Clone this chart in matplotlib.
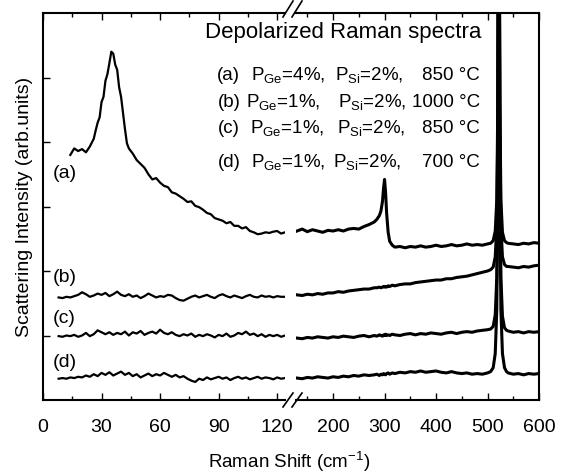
import matplotlib.pyplot as plt
from matplotlib.ticker import MultipleLocator
from matplotlib.lines import Line2D

plt.rcParams['font.family'] = ['Liberation Sans', 'DejaVu Sans']
plt.rcParams['mathtext.fontset'] = 'custom'
plt.rcParams['mathtext.rm'] = 'Liberation Sans'
plt.rcParams['mathtext.it'] = 'Liberation Sans:italic'

# x-Werte links (0..124) und rechts (128..600)
x_left = [8, 10, 12, 14, 16, 18, 20, 22, 24, 26, 28, 30, 32, 34, 36, 38, 40, 42, 44, 46,
          48, 50, 52, 54, 56, 58, 60, 62, 64, 66, 68, 70, 72, 74, 76, 78, 80, 82, 84, 86,
          88, 90, 92, 94, 96, 98, 100, 102, 104, 106, 108, 110, 112, 114, 116, 118, 120, 122, 124]
x_a_left = [14, 16, 18, 20, 22, 24, 26, 27, 28, 29, 30, 31, 32, 33, 34, 35, 36, 37, 38, 39,
            40, 41, 42, 43, 44, 46, 48, 50, 52, 54, 56, 58, 60, 62, 64, 66, 68, 70, 72, 74,
            76, 78, 80, 82, 84, 86, 88, 90, 92, 94, 96, 98, 100, 102, 104, 106, 108, 110, 112, 114,
            116, 118, 120, 122, 124]
x_right = [130, 140, 150, 160, 170, 180, 190, 200, 210, 220, 230, 240, 250, 260, 270, 280,
           285, 290, 293, 296, 298, 300, 302, 304, 307, 310, 315, 320,
           330, 340, 350, 360, 370, 380, 390, 400, 410, 420, 430, 440, 450, 460, 470, 480, 490, 500,
           506, 511, 515, 518, 520, 521, 522, 523, 524, 526, 529, 533, 537,
           540, 550, 560, 570, 580, 590, 600]

# (a) P_Ge=4%, 850 C
a_left = [3.80, 3.90, 3.86, 3.89, 3.84, 3.93, 4.05, 4.18, 4.30, 4.38, 4.62, 4.70, 4.95, 5.05, 5.22, 5.40, 5.37, 5.20, 5.12, 4.85,
          4.70, 4.45, 4.20, 3.98, 3.90, 3.82, 3.72, 3.66, 3.60, 3.50, 3.42, 3.44, 3.37, 3.32, 3.30, 3.22, 3.20, 3.16, 3.12, 3.07,
          3.08, 3.01, 2.99, 2.95, 2.90, 2.88, 2.82, 2.80, 2.78, 2.74, 2.76, 2.70, 2.70, 2.66, 2.68, 2.62, 2.60, 2.57, 2.58, 2.60,
          2.59, 2.61, 2.62, 2.58, 2.60]
a_right = [2.62, 2.65, 2.61, 2.64, 2.62, 2.60, 2.63, 2.62, 2.64, 2.62, 2.65, 2.66, 2.65, 2.69, 2.72, 2.76,
           2.80, 2.86, 2.93, 3.08, 3.28, 3.42, 3.22, 2.90, 2.60, 2.46, 2.40, 2.37,
           2.38, 2.36, 2.38, 2.37, 2.39, 2.37, 2.38, 2.40, 2.38, 2.39, 2.41, 2.39, 2.40, 2.42, 2.40, 2.41, 2.40, 2.42,
           2.43, 2.47, 2.62, 3.10, 4.60, 7.50, 11.0, 7.50, 4.60, 3.10, 2.60, 2.47, 2.44,
           2.43, 2.42, 2.41, 2.43, 2.42, 2.44, 2.43]

# (b) P_Ge=1%, 1000 C
b_left = [1.59, 1.58, 1.60, 1.59, 1.61, 1.63, 1.67, 1.64, 1.60, 1.62, 1.65, 1.63, 1.66, 1.61, 1.64, 1.68, 1.63, 1.61, 1.64, 1.60,
          1.62, 1.58, 1.61, 1.65, 1.62, 1.59, 1.61, 1.60, 1.63, 1.62, 1.58, 1.55, 1.54, 1.57, 1.60, 1.62, 1.59, 1.61, 1.63, 1.60,
          1.58, 1.62, 1.64, 1.61, 1.59, 1.62, 1.60, 1.58, 1.61, 1.63, 1.60, 1.59, 1.62, 1.60, 1.61, 1.59, 1.61, 1.60, 1.60]
b_right = [1.63, 1.62, 1.64, 1.63, 1.65, 1.64, 1.66, 1.66, 1.68, 1.67, 1.69, 1.70, 1.71, 1.72, 1.72, 1.74,
           1.74, 1.75, 1.74, 1.75, 1.76, 1.75, 1.76, 1.75, 1.77, 1.76, 1.78, 1.77,
           1.79, 1.80, 1.80, 1.82, 1.83, 1.84, 1.85, 1.86, 1.86, 1.88, 1.88, 1.90, 1.91, 1.92, 1.94, 1.96, 1.98, 2.00,
           2.02, 2.06, 2.22, 2.70, 4.20, 7.00, 10.5, 7.00, 4.20, 2.70, 2.22, 2.10, 2.07,
           2.07, 2.06, 2.05, 2.07, 2.06, 2.08, 2.09]

# (c) P_Ge=1%, 850 C
c_left = [0.99, 0.98, 1.00, 0.99, 1.01, 0.98, 1.00, 1.04, 0.99, 1.02, 1.08, 1.05, 1.02, 1.05, 1.01, 1.04, 1.02, 1.06, 1.00, 1.05,
          1.03, 1.07, 1.01, 1.04, 1.06, 1.03, 1.09, 1.04, 1.02, 1.05, 1.01, 0.99, 1.02, 1.00, 1.03, 0.98, 1.01, 0.99, 1.02, 1.00,
          0.97, 1.01, 0.99, 1.03, 0.98, 1.00, 1.04, 1.02, 1.06, 1.01, 1.03, 0.99, 1.02, 0.98, 1.01, 0.99, 1.01, 0.98, 1.00]
c_right = [0.96, 0.95, 0.97, 0.96, 0.98, 0.97, 0.96, 0.98, 0.97, 0.99, 0.98, 0.97, 0.99, 1.00, 0.98, 1.00,
           0.99, 1.01, 1.00, 0.99, 1.01, 1.00, 1.02, 1.00, 1.01, 1.00, 1.02, 1.01,
           1.00, 1.02, 1.03, 1.01, 1.03, 1.02, 1.04, 1.03, 1.02, 1.04, 1.05, 1.03, 1.05, 1.06, 1.05, 1.07, 1.08, 1.09,
           1.10, 1.14, 1.32, 1.90, 3.60, 6.60, 10.0, 6.60, 3.60, 1.90, 1.30, 1.12, 1.08,
           1.07, 1.05, 1.06, 1.04, 1.06, 1.05, 1.06]

# (d) P_Ge=1%, 700 C
d_left = [0.33, 0.34, 0.33, 0.35, 0.34, 0.36, 0.35, 0.38, 0.36, 0.40, 0.37, 0.42, 0.39, 0.43, 0.38, 0.41, 0.44, 0.39, 0.42, 0.37,
          0.40, 0.35, 0.38, 0.41, 0.37, 0.40, 0.38, 0.42, 0.39, 0.36, 0.39, 0.35, 0.37, 0.33, 0.30, 0.28, 0.33, 0.31, 0.35, 0.32,
          0.34, 0.36, 0.33, 0.35, 0.31, 0.34, 0.36, 0.33, 0.35, 0.32, 0.34, 0.36, 0.33, 0.35, 0.34, 0.32, 0.35, 0.33, 0.34]
d_right = [0.34, 0.33, 0.35, 0.34, 0.36, 0.35, 0.34, 0.36, 0.35, 0.37, 0.36, 0.38, 0.37, 0.39, 0.38, 0.39,
           0.40, 0.38, 0.40, 0.39, 0.41, 0.40, 0.39, 0.41, 0.42, 0.40, 0.42, 0.41,
           0.43, 0.42, 0.44, 0.43, 0.45, 0.43, 0.44, 0.45, 0.43, 0.42, 0.44, 0.42, 0.41, 0.42, 0.40, 0.41, 0.40, 0.42,
           0.44, 0.50, 0.72, 1.40, 3.20, 6.20, 9.50, 6.20, 3.20, 1.40, 0.72, 0.50, 0.44,
           0.42, 0.40, 0.41, 0.39, 0.41, 0.40, 0.41]

curve_labels = ['(a)', '(b)', '(c)', '(d)']
legend_rows = [
    ('(a)', r'P$_{\rm Ge}$=4%,', r'P$_{\rm Si}$=2%,', '850 °C'),
    ('(b)', r'P$_{\rm Ge}$=1%,', r'P$_{\rm Si}$=2%,', '1000 °C'),
    ('(c)', r'P$_{\rm Ge}$=1%,', r'P$_{\rm Si}$=2%,', '850 °C'),
    ('(d)', r'P$_{\rm Ge}$=1%,', r'P$_{\rm Si}$=2%,', '700 °C'),
]

W, H = 565, 476
fig = plt.figure(figsize=(W / 100, H / 100), dpi=100)


def fx(px):
    return px / W


def fy(py):
    return 1 - py / H


ax1 = fig.add_axes([fx(43), fy(400), (285 - 43) / W, 387 / H])
ax2 = fig.add_axes([fx(296), fy(400), (539 - 296) / W, 387 / H])

ax1.plot(x_a_left, a_left, color='k', lw=1.6)
for y in (b_left, c_left, d_left):
    ax1.plot(x_left, y, color='k', lw=1.6)
for y in (a_right, b_right, c_right, d_right):
    ax2.plot(x_right, y, color='k', lw=2.2)

for ax in (ax1, ax2):
    ax.set_ylim(0, 6)
    for s in ax.spines.values():
        s.set_linewidth(1.5)
    ax.tick_params(which='both', direction='in', top=True, labelsize=14, pad=14)
    ax.tick_params(which='major', length=5, width=1)
    ax.tick_params(which='minor', length=3, width=1)

ax1.set_xlim(0, 124)
ax1.xaxis.set_major_locator(MultipleLocator(30))
ax1.xaxis.set_minor_locator(MultipleLocator(15))
ax1.set_yticks([1, 2, 3, 4, 5])
ax1.set_yticklabels([])
ax1.spines['right'].set_visible(False)

ax2.set_xlim(128, 600)
ax2.xaxis.set_major_locator(MultipleLocator(100))
ax2.xaxis.set_minor_locator(MultipleLocator(50))
ax2.set_yticks([])
ax2.spines['left'].set_visible(False)

# Bruchzeichen //
for py0, py1 in ((17, 1), (407, 393)):
    for px0 in (283, 292):
        fig.add_artist(Line2D([fx(px0), fx(px0 + 10)], [fy(py0), fy(py1)],
                              color='k', lw=1.2, transform=fig.transFigure))

fig.text(fx(205), fy(38), 'Depolarized Raman spectra', fontsize=16, va='baseline')
row_base = [80, 107, 133, 167]
row_lab_x = [217, 218, 218, 218]
row_pge_x = [251, 246, 250, 251]
row_psi_x = [335, 338, 337, 333]
for i, (lab, pge, psi, temp) in enumerate(legend_rows):
    fig.text(fx(row_lab_x[i]), fy(row_base[i]), lab, fontsize=13.5, va='baseline')
    fig.text(fx(row_pge_x[i]), fy(row_base[i]), pge, fontsize=13.5, va='baseline')
    fig.text(fx(row_psi_x[i]), fy(row_base[i]), psi, fontsize=13.5, va='baseline')
    fig.text(fx(480), fy(row_base[i]), temp, fontsize=13.5, va='baseline', ha='right')

lab_base = [178, 282, 323, 367]
for lab, py in zip(curve_labels, lab_base):
    fig.text(fx(53), fy(py), lab, fontsize=14, va='baseline')

fig.text(fx(289), fy(468), 'Raman Shift (cm$^{-1}$)', fontsize=13.5, ha='center', va='baseline')
fig.text(fx(25), fy(207), 'Scattering Intensity (arb.units)', fontsize=14,
         rotation=90, ha='center', va='center')

fig.savefig('out.png', dpi=100)
